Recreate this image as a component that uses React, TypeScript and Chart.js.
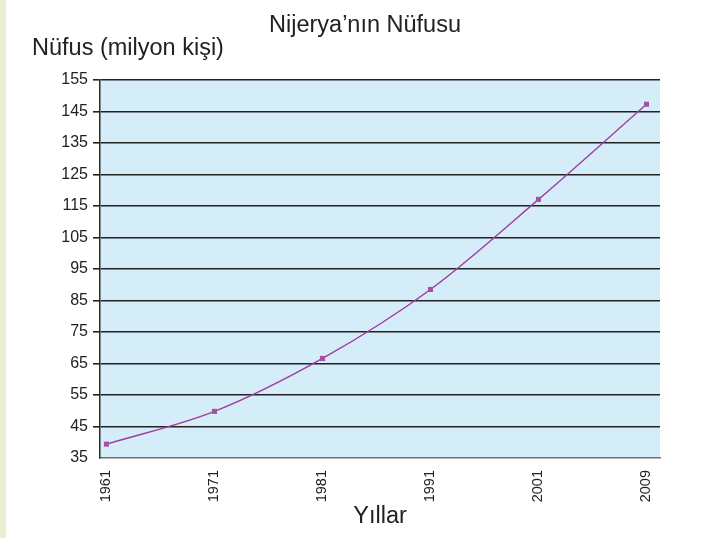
import React, { useEffect, useRef } from "react";
import { Chart, registerables } from "chart.js";

Chart.register(...registerables);

const years: string[] = ["1961", "1971", "1981", "1991", "2001", "2009"];
const population: number[] = [39.4, 49.8, 66.6, 88.5, 117.1, 147.3];
const yTicks: number[] = [35, 45, 55, 65, 75, 85, 95, 105, 115, 125, 135, 145, 155];

const chartTitle = "Nijerya’nın Nüfusu";
const yAxisTitle = "Nüfus (milyon kişi)";
const xAxisTitle = "Yıllar";

const FONT = "'Liberation Sans', Arial, Helvetica, sans-serif";

const decorPlugin = {
  id: "decor",
  beforeDraw(chart: any) {
    const { ctx, chartArea } = chart;
    ctx.save();
    ctx.fillStyle = "#e9efd3";
    ctx.fillRect(0, 0, 6, chart.height);
    ctx.fillStyle = "#d5ecf9";
    ctx.fillRect(chartArea.left, chartArea.top, chartArea.right - chartArea.left, chartArea.bottom - chartArea.top);
    ctx.restore();
  },
  afterDraw(chart: any) {
    const { ctx, chartArea } = chart;
    ctx.save();
    ctx.fillStyle = "#222";
    ctx.font = `23.5px ${FONT}`;
    ctx.textBaseline = "alphabetic";
    ctx.textAlign = "center";
    ctx.fillText(chartTitle, chartArea.left + 265, chartArea.top - 48);
    ctx.textAlign = "left";
    ctx.fillText(yAxisTitle, chartArea.left - 68, chartArea.top - 25);
    ctx.restore();
  },
};

export default function App() {
  const ref = useRef<HTMLCanvasElement | null>(null);

  useEffect(() => {
    if (!ref.current) return;
    const chart = new Chart(ref.current, {
      type: "line",
      data: {
        datasets: [
          {
            data: population.map((v, i) => ({ x: i, y: v })),
            borderColor: "#a03c9e",
            borderWidth: 1.4,
            backgroundColor: "#a552a3",
            pointStyle: "rect",
            pointRadius: 3.6,
            pointBorderWidth: 0,
            cubicInterpolationMode: "monotone",
          },
        ],
      },
      plugins: [decorPlugin],
      options: {
        animation: false,
        responsive: true,
        maintainAspectRatio: false,
        layout: { padding: { top: 80, right: 55, bottom: 3, left: 0 } },
        plugins: {
          legend: { display: false },
          tooltip: { enabled: false },
          title: { display: false },
        },
        scales: {
          x: {
            type: "linear",
            min: -0.06,
            max: 5.125,
            afterBuildTicks: (scale: any) => {
              scale.ticks = years.map((_, i) => ({ value: i }));
            },
            afterFit: (scale: any) => {
              scale.height = 77;
            },
            grid: { display: false },
            border: { display: true, color: "#6f6f6f", width: 1.5 },
            ticks: {
              minRotation: 90,
              maxRotation: 90,
              padding: 4,
              color: "#222",
              font: { family: FONT, size: 14.5 },
              callback: (value: any) => years[Math.round(Number(value))] ?? "",
            },
            title: {
              display: true,
              text: xAxisTitle,
              color: "#222",
              font: { family: FONT, size: 23.5 },
              padding: { top: 4, bottom: 4 },
            },
          },
          y: {
            min: 35,
            max: 155,
            afterBuildTicks: (scale: any) => {
              scale.ticks = yTicks.map((v) => ({ value: v }));
            },
            afterFit: (scale: any) => {
              scale.width = 100;
            },
            grid: {
              color: (c: any) => (c.tick && c.tick.value === 35 ? "rgba(0,0,0,0)" : "#232323"),
              lineWidth: 1.6,
              tickLength: 7,
            },
            border: { display: true, color: "#2a2a2a", width: 1.5 },
            ticks: {
              padding: 5,
              color: "#222",
              font: { family: FONT, size: 16 },
            },
          },
        },
      },
    } as any);
    return () => chart.destroy();
  }, []);

  return (
    <div style={{ position: "fixed", left: 0, top: 0, width: 715, height: 538, background: "#fff" }}>
      <canvas ref={ref} />
    </div>
  );
}
